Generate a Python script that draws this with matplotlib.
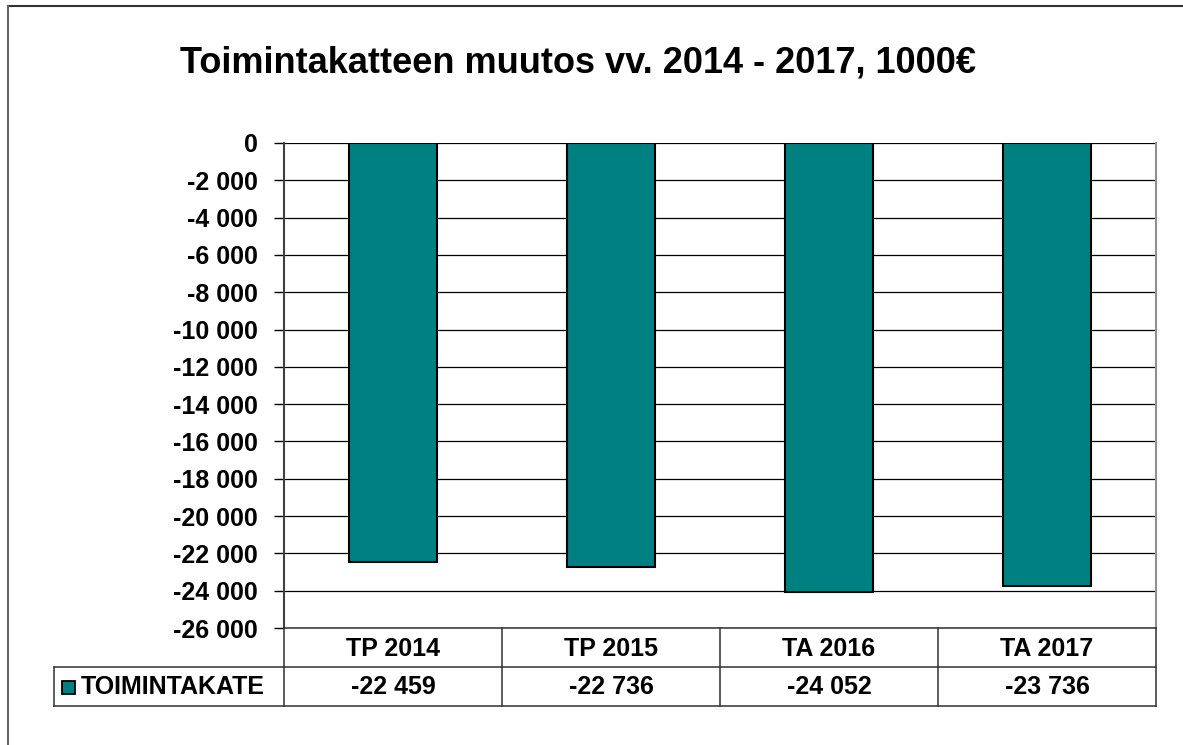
import numpy as np
import matplotlib.pyplot as plt
from matplotlib.patches import Rectangle
from matplotlib.lines import Line2D

plt.rcParams['font.family'] = ['Liberation Sans', 'DejaVu Sans']

title = "Toimintakatteen muutos vv. 2014 - 2017, 1000€"
categories = ["TP 2014", "TP 2015", "TA 2016", "TA 2017"]
series_name = "TOIMINTAKATE"
values = [-22459, -22736, -24052, -23736]
y_ticks = list(range(0, -26001, -2000))

W, H = 1183, 745
fig = plt.figure(figsize=(W / 100, H / 100), dpi=100)


def fx(px):
    return px / W


def fy(py):
    return 1 - py / H


def fmt(v):
    return '0' if v == 0 else '-{:,}'.format(-v).replace(',', ' ')


FS = 18

# plot area in pixels
L, R, T, B = 284, 1156, 143, 628
ax = fig.add_axes([fx(L), fy(B), fx(R) - fx(L), fy(T) - fy(B)])

x = np.arange(len(categories))
ax.bar(x, values, width=0.4, color='#008080', edgecolor='black', linewidth=1.5, zorder=3)
ax.set_xlim(-0.5, len(categories) - 0.5)
ax.set_ylim(-26000, 0)
ax.set_yticks(y_ticks)
ax.set_yticklabels([fmt(v) for v in y_ticks], fontsize=FS, fontweight='bold')
ax.tick_params(axis='y', direction='out', length=7, width=1, pad=12, colors='black')
ax.set_xticks([])
ax.grid(axis='y', color='black', linewidth=0.9, zorder=1)
for s in ['top', 'bottom']:
    ax.spines[s].set_visible(False)
ax.spines['left'].set_color('#404040')
ax.spines['left'].set_linewidth(1.5)
ax.spines['right'].set_color('#909090')
ax.spines['right'].set_linewidth(1.5)

# data table below the plot
row1_b, row2_b = 667, 706
tbl_left = 54
col_w = (R - L) / len(categories)
lc = '#303030'


def hline(x0, x1, y, c=lc):
    fig.add_artist(Line2D([fx(x0), fx(x1)], [fy(y), fy(y)], color=c, linewidth=1.1))


def vline(x0, y0, y1, c=lc):
    fig.add_artist(Line2D([fx(x0), fx(x0)], [fy(y0), fy(y1)], color=c, linewidth=1.1))


hline(L, R, B)
hline(tbl_left, R, row1_b)
hline(tbl_left, R, row2_b)
vline(tbl_left, row1_b, row2_b)
for i in range(len(categories) + 1):
    vline(L + i * col_w, B, row2_b)

for i, (c, v) in enumerate(zip(categories, values)):
    cx = L + (i + 0.5) * col_w
    fig.text(fx(cx), fy((B + row1_b) / 2 + 1), c, ha='center', va='center',
             fontsize=FS, fontweight='bold')
    fig.text(fx(cx), fy((row1_b + row2_b) / 2 + 1), fmt(v),
             ha='center', va='center', fontsize=FS, fontweight='bold')

# legend key
fig.add_artist(Rectangle((fx(62), fy(694)), fx(13), fy(681) - fy(694), transform=fig.transFigure,
                         facecolor='#008080', edgecolor='black', linewidth=1.3))
fig.text(fx(81), fy(687), series_name, ha='left', va='center', fontsize=FS, fontweight='bold')

# title
fig.text(fx(578), fy(63), title, ha='center', va='center', fontsize=26, fontweight='bold')

# outer chart border
fig.add_artist(Line2D([fx(8), 1], [fy(6), fy(6)], color='#333333', linewidth=1.5))
fig.add_artist(Line2D([fx(8), fx(8)], [fy(6), 0], color='#666666', linewidth=1.5))

fig.savefig('out.png', dpi=100)
